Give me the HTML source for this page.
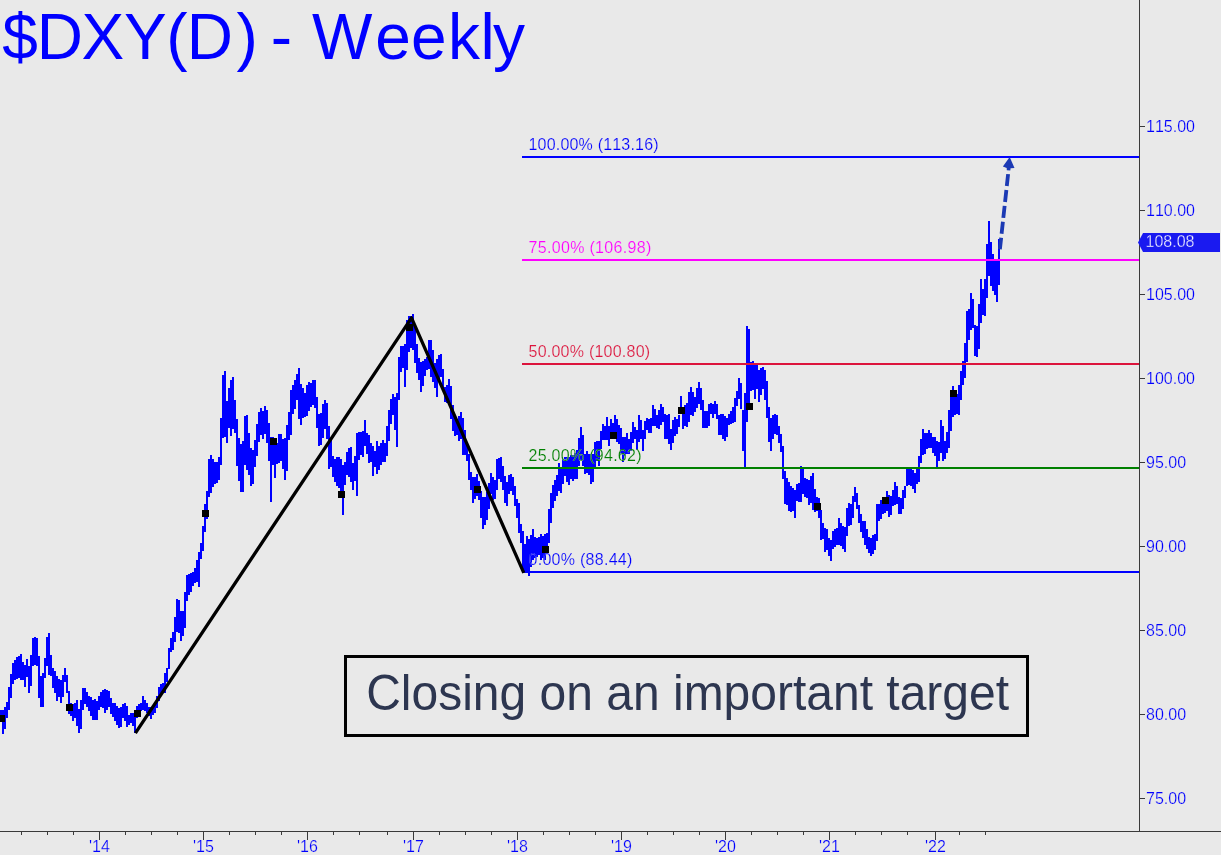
<!DOCTYPE html>
<html><head><meta charset="utf-8"><title>$DXY(D) - Weekly</title>
<style>
html,body{margin:0;padding:0;background:#e9e9e9;}
body{width:1221px;height:855px;overflow:hidden;position:relative;font-family:"Liberation Sans",Arial,sans-serif;}
svg{position:absolute;left:0;top:0;display:block;}
svg text{font-family:"Liberation Sans",Arial,sans-serif;font-kerning:none;}
#note{position:absolute;left:344px;top:655px;width:679px;height:76px;border:3px solid #000;box-sizing:content-box;}
</style></head><body>
<svg width="1221" height="855" viewBox="0 0 1221 855">
<rect width="1221" height="855" fill="#e9e9e9"/>
<text x="2.3 36.8 81.6 124.0 166.2 186.7 236.4 257.5 270.8 296.6 312.0 375.3 411.1 448 480.6 493" y="59" fill="#0000ff" font-size="64">$DXY(D) - Weekly</text>
<path d="M0 710h2V718h-2ZM2 710h2V734h-2ZM4 707h2V729h-2ZM6 702h2V718h-2ZM8 687h2V710h-2ZM10 674h2V698h-2ZM12 663h2V684h-2ZM14 660h2V680h-2ZM16 657h2V679h-2ZM18 656h2V678h-2ZM20 654h2V680h-2ZM22 662h2V680h-2ZM24 665h2V687h-2ZM26 659h2V677h-2ZM28 666h2V693h-2ZM30 655h2V686h-2ZM32 638h2V666h-2ZM34 637h2V665h-2ZM36 638h2V666h-2ZM38 656h2V698h-2ZM40 676h2V707h-2ZM42 673h2V707h-2ZM44 658h2V678h-2ZM46 637h2V666h-2ZM48 633h2V675h-2ZM50 655h2V676h-2ZM52 668h2V688h-2ZM54 671h2V693h-2ZM56 676h2V701h-2ZM58 679h2V697h-2ZM60 680h2V703h-2ZM62 675h2V697h-2ZM64 668h2V682h-2ZM66 675h2V693h-2ZM68 691h2V714h-2ZM70 703h2V716h-2ZM72 704h2V721h-2ZM74 703h2V718h-2ZM76 700h2V726h-2ZM78 709h2V733h-2ZM80 700h2V729h-2ZM82 688h2V710h-2ZM84 688h2V704h-2ZM86 692h2V707h-2ZM88 696h2V711h-2ZM90 697h2V716h-2ZM92 700h2V720h-2ZM94 699h2V720h-2ZM96 701h2V720h-2ZM98 696h2V710h-2ZM100 692h2V707h-2ZM102 690h2V708h-2ZM104 689h2V713h-2ZM106 690h2V710h-2ZM108 691h2V707h-2ZM110 698h2V714h-2ZM112 703h2V717h-2ZM114 703h2V721h-2ZM116 706h2V725h-2ZM118 708h2V728h-2ZM120 707h2V727h-2ZM122 704h2V718h-2ZM124 703h2V721h-2ZM126 706h2V727h-2ZM128 715h2V725h-2ZM130 713h2V723h-2ZM132 713h2V726h-2ZM134 710h2V733h-2ZM136 706h2V718h-2ZM138 704h2V714h-2ZM140 703h2V711h-2ZM142 696h2V710h-2ZM144 700h2V711h-2ZM146 703h2V713h-2ZM148 707h2V716h-2ZM150 707h2V719h-2ZM152 706h2V715h-2ZM154 703h2V713h-2ZM156 696h2V708h-2ZM158 687h2V701h-2ZM160 684h2V694h-2ZM162 683h2V693h-2ZM164 673h2V693h-2ZM166 668h2V682h-2ZM168 648h2V669h-2ZM170 638h2V652h-2ZM172 632h2V650h-2ZM174 617h2V642h-2ZM176 599h2V632h-2ZM178 600h2V633h-2ZM180 611h2V641h-2ZM182 611h2V636h-2ZM184 592h2V628h-2ZM186 575h2V601h-2ZM188 574h2V595h-2ZM190 573h2V592h-2ZM192 572h2V586h-2ZM194 568h2V583h-2ZM196 560h2V582h-2ZM198 552h2V587h-2ZM200 543h2V559h-2ZM202 526h2V551h-2ZM204 504h2V532h-2ZM206 491h2V519h-2ZM208 459h2V497h-2ZM210 455h2V493h-2ZM212 459h2V487h-2ZM214 462h2V484h-2ZM216 462h2V483h-2ZM218 457h2V480h-2ZM220 418h2V465h-2ZM222 375h2V438h-2ZM224 371h2V437h-2ZM226 401h2V443h-2ZM228 388h2V428h-2ZM230 380h2V436h-2ZM232 377h2V429h-2ZM234 400h2V433h-2ZM236 419h2V466h-2ZM238 438h2V481h-2ZM240 444h2V492h-2ZM242 441h2V492h-2ZM244 416h2V465h-2ZM246 415h2V470h-2ZM248 433h2V475h-2ZM250 448h2V486h-2ZM252 450h2V484h-2ZM254 440h2V467h-2ZM256 424h2V456h-2ZM258 412h2V442h-2ZM260 408h2V435h-2ZM262 411h2V439h-2ZM264 406h2V434h-2ZM266 410h2V443h-2ZM268 423h2V461h-2ZM270 437h2V502h-2ZM272 437h2V465h-2ZM274 444h2V478h-2ZM276 443h2V464h-2ZM278 434h2V463h-2ZM280 434h2V461h-2ZM282 439h2V469h-2ZM284 438h2V480h-2ZM286 425h2V471h-2ZM288 412h2V440h-2ZM290 390h2V435h-2ZM292 385h2V414h-2ZM294 380h2V409h-2ZM296 374h2V400h-2ZM298 368h2V419h-2ZM300 384h2V425h-2ZM302 388h2V418h-2ZM304 393h2V417h-2ZM306 385h2V416h-2ZM308 382h2V411h-2ZM310 383h2V407h-2ZM312 380h2V405h-2ZM314 380h2V408h-2ZM316 397h2V428h-2ZM318 414h2V446h-2ZM320 413h2V445h-2ZM322 404h2V438h-2ZM324 400h2V429h-2ZM326 403h2V439h-2ZM328 426h2V469h-2ZM330 438h2V467h-2ZM332 456h2V477h-2ZM334 459h2V482h-2ZM336 457h2V486h-2ZM338 457h2V488h-2ZM340 459h2V491h-2ZM342 465h2V515h-2ZM344 462h2V485h-2ZM346 452h2V475h-2ZM348 448h2V477h-2ZM350 447h2V482h-2ZM352 463h2V490h-2ZM354 456h2V481h-2ZM356 433h2V496h-2ZM358 432h2V460h-2ZM360 432h2V455h-2ZM362 431h2V457h-2ZM364 420h2V446h-2ZM366 433h2V454h-2ZM368 435h2V463h-2ZM370 443h2V462h-2ZM372 446h2V476h-2ZM374 451h2V467h-2ZM376 441h2V474h-2ZM378 446h2V470h-2ZM380 443h2V465h-2ZM382 440h2V462h-2ZM384 443h2V462h-2ZM386 426h2V456h-2ZM388 410h2V441h-2ZM390 399h2V424h-2ZM392 394h2V415h-2ZM394 397h2V430h-2ZM396 393h2V447h-2ZM398 357h2V400h-2ZM400 346h2V372h-2ZM402 346h2V368h-2ZM404 344h2V387h-2ZM406 320h2V370h-2ZM408 316h2V352h-2ZM410 316h2V348h-2ZM412 314h2V350h-2ZM414 325h2V363h-2ZM416 344h2V373h-2ZM418 358h2V380h-2ZM420 362h2V392h-2ZM422 361h2V386h-2ZM424 359h2V376h-2ZM426 357h2V370h-2ZM428 340h2V369h-2ZM430 340h2V377h-2ZM432 350h2V382h-2ZM434 363h2V388h-2ZM436 359h2V397h-2ZM438 355h2V382h-2ZM440 354h2V377h-2ZM442 369h2V390h-2ZM444 387h2V402h-2ZM446 385h2V403h-2ZM448 379h2V403h-2ZM450 386h2V419h-2ZM452 405h2V431h-2ZM454 418h2V436h-2ZM456 419h2V435h-2ZM458 416h2V441h-2ZM460 412h2V439h-2ZM462 418h2V455h-2ZM464 430h2V455h-2ZM466 445h2V461h-2ZM468 454h2V480h-2ZM470 472h2V490h-2ZM472 477h2V503h-2ZM474 477h2V499h-2ZM476 474h2V496h-2ZM478 481h2V500h-2ZM480 491h2V518h-2ZM482 497h2V529h-2ZM484 497h2V525h-2ZM486 492h2V520h-2ZM488 483h2V509h-2ZM490 473h2V494h-2ZM492 477h2V500h-2ZM494 480h2V499h-2ZM496 459h2V490h-2ZM498 458h2V479h-2ZM500 457h2V482h-2ZM502 466h2V490h-2ZM504 476h2V503h-2ZM506 482h2V506h-2ZM508 475h2V494h-2ZM510 474h2V491h-2ZM512 477h2V495h-2ZM514 486h2V506h-2ZM516 499h2V518h-2ZM518 503h2V533h-2ZM520 524h2V543h-2ZM522 531h2V569h-2ZM524 544h2V573h-2ZM526 536h2V571h-2ZM528 539h2V576h-2ZM530 535h2V567h-2ZM532 529h2V560h-2ZM534 537h2V558h-2ZM536 538h2V557h-2ZM538 537h2V555h-2ZM540 534h2V560h-2ZM542 536h2V558h-2ZM544 534h2V560h-2ZM546 533h2V547h-2ZM548 509h2V543h-2ZM550 493h2V523h-2ZM552 485h2V508h-2ZM554 480h2V501h-2ZM556 475h2V496h-2ZM558 463h2V491h-2ZM560 468h2V493h-2ZM562 459h2V484h-2ZM564 457h2V476h-2ZM566 457h2V482h-2ZM568 457h2V485h-2ZM570 455h2V479h-2ZM572 455h2V481h-2ZM574 453h2V479h-2ZM576 450h2V479h-2ZM578 438h2V466h-2ZM580 427h2V460h-2ZM582 435h2V466h-2ZM584 454h2V474h-2ZM586 451h2V473h-2ZM588 454h2V475h-2ZM590 454h2V484h-2ZM592 454h2V482h-2ZM594 442h2V467h-2ZM596 441h2V461h-2ZM598 441h2V466h-2ZM600 431h2V449h-2ZM602 424h2V440h-2ZM604 426h2V440h-2ZM606 417h2V440h-2ZM608 426h2V446h-2ZM610 419h2V439h-2ZM612 423h2V437h-2ZM614 415h2V439h-2ZM616 419h2V442h-2ZM618 425h2V444h-2ZM620 428h2V454h-2ZM622 437h2V462h-2ZM624 437h2V456h-2ZM626 433h2V454h-2ZM628 439h2V454h-2ZM630 432h2V451h-2ZM632 422h2V443h-2ZM634 427h2V439h-2ZM636 430h2V450h-2ZM638 415h2V442h-2ZM640 420h2V439h-2ZM642 430h2V451h-2ZM644 421h2V439h-2ZM646 418h2V430h-2ZM648 419h2V433h-2ZM650 418h2V433h-2ZM652 405h2V426h-2ZM654 409h2V426h-2ZM656 415h2V428h-2ZM658 410h2V429h-2ZM660 404h2V425h-2ZM662 407h2V422h-2ZM664 414h2V439h-2ZM666 415h2V439h-2ZM668 414h2V444h-2ZM670 429h2V450h-2ZM672 420h2V443h-2ZM674 417h2V436h-2ZM676 419h2V434h-2ZM678 415h2V427h-2ZM680 396h2V414h-2ZM682 408h2V429h-2ZM684 405h2V426h-2ZM686 403h2V427h-2ZM688 392h2V422h-2ZM690 387h2V415h-2ZM692 392h2V416h-2ZM694 397h2V412h-2ZM696 388h2V408h-2ZM698 382h2V404h-2ZM700 388h2V410h-2ZM702 400h2V428h-2ZM704 411h2V428h-2ZM706 411h2V428h-2ZM708 404h2V426h-2ZM710 403h2V414h-2ZM712 404h2V418h-2ZM714 401h2V414h-2ZM716 404h2V419h-2ZM718 415h2V435h-2ZM720 414h2V435h-2ZM722 414h2V439h-2ZM724 416h2V441h-2ZM726 418h2V437h-2ZM728 414h2V425h-2ZM730 411h2V424h-2ZM732 407h2V423h-2ZM734 398h2V422h-2ZM736 391h2V406h-2ZM738 378h2V399h-2ZM740 383h2V409h-2ZM742 410h2V451h-2ZM744 393h2V467h-2ZM746 326h2V422h-2ZM748 329h2V404h-2ZM750 362h2V391h-2ZM752 361h2V390h-2ZM754 365h2V399h-2ZM756 363h2V389h-2ZM758 370h2V402h-2ZM760 368h2V395h-2ZM762 367h2V389h-2ZM764 370h2V400h-2ZM766 381h2V418h-2ZM768 407h2V442h-2ZM770 418h2V451h-2ZM772 415h2V439h-2ZM774 414h2V434h-2ZM776 415h2V435h-2ZM778 426h2V443h-2ZM780 434h2V452h-2ZM782 446h2V479h-2ZM784 471h2V504h-2ZM786 478h2V505h-2ZM788 482h2V511h-2ZM790 486h2V512h-2ZM792 488h2V511h-2ZM794 490h2V518h-2ZM796 484h2V501h-2ZM798 483h2V502h-2ZM800 466h2V502h-2ZM802 469h2V494h-2ZM804 478h2V497h-2ZM806 479h2V498h-2ZM808 480h2V505h-2ZM810 476h2V503h-2ZM812 473h2V510h-2ZM814 489h2V512h-2ZM816 497h2V511h-2ZM818 498h2V518h-2ZM820 510h2V540h-2ZM822 523h2V539h-2ZM824 528h2V552h-2ZM826 529h2V550h-2ZM828 538h2V556h-2ZM830 540h2V561h-2ZM832 531h2V549h-2ZM834 529h2V547h-2ZM836 528h2V545h-2ZM838 518h2V545h-2ZM840 523h2V546h-2ZM842 526h2V549h-2ZM844 527h2V552h-2ZM846 508h2V536h-2ZM848 503h2V526h-2ZM850 504h2V525h-2ZM852 496h2V518h-2ZM854 487h2V502h-2ZM856 493h2V509h-2ZM858 505h2V523h-2ZM860 514h2V532h-2ZM862 521h2V538h-2ZM864 521h2V545h-2ZM866 529h2V549h-2ZM868 537h2V553h-2ZM870 538h2V556h-2ZM872 535h2V554h-2ZM874 534h2V550h-2ZM876 504h2V541h-2ZM878 504h2V521h-2ZM880 500h2V519h-2ZM882 500h2V514h-2ZM884 498h2V513h-2ZM886 491h2V511h-2ZM888 495h2V517h-2ZM890 496h2V515h-2ZM892 490h2V506h-2ZM894 482h2V505h-2ZM896 486h2V504h-2ZM898 497h2V514h-2ZM900 498h2V514h-2ZM902 490h2V509h-2ZM904 486h2V498h-2ZM906 469h2V486h-2ZM908 468h2V485h-2ZM910 468h2V486h-2ZM912 470h2V489h-2ZM914 473h2V493h-2ZM916 469h2V484h-2ZM918 456h2V482h-2ZM920 439h2V463h-2ZM922 429h2V455h-2ZM924 433h2V454h-2ZM926 433h2V449h-2ZM928 430h2V448h-2ZM930 433h2V448h-2ZM932 437h2V453h-2ZM934 437h2V456h-2ZM936 441h2V469h-2ZM938 442h2V461h-2ZM940 420h2V453h-2ZM942 426h2V461h-2ZM944 441h2V459h-2ZM946 432h2V453h-2ZM948 410h2V448h-2ZM950 393h2V431h-2ZM952 386h2V417h-2ZM954 390h2V415h-2ZM956 394h2V414h-2ZM958 385h2V415h-2ZM960 371h2V400h-2ZM962 361h2V385h-2ZM964 343h2V378h-2ZM966 311h2V362h-2ZM968 309h2V340h-2ZM970 293h2V330h-2ZM972 299h2V328h-2ZM974 325h2V356h-2ZM976 326h2V357h-2ZM978 304h2V349h-2ZM980 279h2V323h-2ZM982 289h2V315h-2ZM984 279h2V316h-2ZM986 244h2V298h-2ZM988 221h2V276h-2ZM990 242h2V286h-2ZM992 254h2V291h-2ZM994 261h2V295h-2ZM996 261h2V302h-2ZM998 239h2V285h-2Z" fill="#0000ff" shape-rendering="crispEdges"/>
<g shape-rendering="crispEdges"><rect x="522" y="156" width="617" height="2" fill="#0000ff"/><text x="528.5" y="150.2" fill="#0000ff" font-size="16" letter-spacing="0.19" stroke="#e9e9e9" stroke-width="0.18">100.00% (113.16)</text><rect x="522" y="259" width="617" height="2" fill="#ff00ff"/><text x="528.5" y="253.2" fill="#ff00ff" font-size="16" letter-spacing="0.32" stroke="#e9e9e9" stroke-width="0.18">75.00% (106.98)</text><rect x="522" y="363" width="617" height="2" fill="#dc143c"/><text x="528.5" y="357.2" fill="#dc143c" font-size="16" letter-spacing="0.24" stroke="#e9e9e9" stroke-width="0.18">50.00% (100.80)</text><rect x="522" y="467" width="617" height="2" fill="#008000"/><text x="528.5" y="461.2" fill="#008000" font-size="16" letter-spacing="0.28" stroke="#e9e9e9" stroke-width="0.18">25.00% (94.62)</text><rect x="522" y="571" width="617" height="2" fill="#0000ff"/><text x="528.5" y="565.2" fill="#0000ff" font-size="16" letter-spacing="0.28" stroke="#e9e9e9" stroke-width="0.18">0.00% (88.44)</text></g>
<polyline points="135.4,733.2 411.5,317.8 523.8,572.9" fill="none" stroke="#000" stroke-width="3.3" stroke-linejoin="round"/>
<g fill="#000" shape-rendering="crispEdges"><rect x="-2" y="715" width="7" height="7"/><rect x="66" y="704" width="7" height="7"/><rect x="134" y="710" width="7" height="7"/><rect x="202" y="510" width="7" height="7"/><rect x="270" y="438" width="7" height="7"/><rect x="338" y="491" width="7" height="7"/><rect x="406" y="324" width="7" height="7"/><rect x="474" y="486" width="7" height="7"/><rect x="542" y="546" width="7" height="7"/><rect x="610" y="432" width="7" height="7"/><rect x="678" y="407" width="7" height="7"/><rect x="746" y="403" width="7" height="7"/><rect x="814" y="503" width="7" height="7"/><rect x="882" y="497" width="7" height="7"/><rect x="950" y="390" width="7" height="7"/></g>
<line x1="1008.1" y1="174.1" x2="999.9" y2="249.3" stroke="#1c3ab4" stroke-width="3.8" stroke-dasharray="12 4"/>
<polygon points="1009.7,157 1014.5,168.1 1010.6,168.3 1010.3,170.6 1006.8,170.3 1006.7,167.9 1002.9,166.6" fill="#1c3ab4"/>
<g shape-rendering="crispEdges"><rect x="1139" y="0" width="1" height="832" fill="#3a3a3a"/><rect x="0" y="831" width="1221" height="1" fill="#3a3a3a"/><rect x="1140" y="798" width="5" height="1" fill="#3a3a3a"/><text x="1146" y="803.8" fill="#0000ff" font-size="16" stroke="#e9e9e9" stroke-width="0.22">75.00</text><rect x="1140" y="714" width="5" height="1" fill="#3a3a3a"/><text x="1146" y="719.8" fill="#0000ff" font-size="16" stroke="#e9e9e9" stroke-width="0.22">80.00</text><rect x="1140" y="630" width="5" height="1" fill="#3a3a3a"/><text x="1146" y="635.8" fill="#0000ff" font-size="16" stroke="#e9e9e9" stroke-width="0.22">85.00</text><rect x="1140" y="546" width="5" height="1" fill="#3a3a3a"/><text x="1146" y="551.8" fill="#0000ff" font-size="16" stroke="#e9e9e9" stroke-width="0.22">90.00</text><rect x="1140" y="462" width="5" height="1" fill="#3a3a3a"/><text x="1146" y="467.8" fill="#0000ff" font-size="16" stroke="#e9e9e9" stroke-width="0.22">95.00</text><rect x="1140" y="378" width="5" height="1" fill="#3a3a3a"/><text x="1146" y="383.8" fill="#0000ff" font-size="16" stroke="#e9e9e9" stroke-width="0.22">100.00</text><rect x="1140" y="294" width="5" height="1" fill="#3a3a3a"/><text x="1146" y="299.8" fill="#0000ff" font-size="16" stroke="#e9e9e9" stroke-width="0.22">105.00</text><rect x="1140" y="210" width="5" height="1" fill="#3a3a3a"/><text x="1146" y="215.8" fill="#0000ff" font-size="16" stroke="#e9e9e9" stroke-width="0.22">110.00</text><rect x="1140" y="126" width="5" height="1" fill="#3a3a3a"/><text x="1146" y="131.8" fill="#0000ff" font-size="16" stroke="#e9e9e9" stroke-width="0.22">115.00</text><rect x="99" y="832" width="1" height="8" fill="#3a3a3a"/><text x="99.5" y="851.7" fill="#0000ff" font-size="16" text-anchor="middle" stroke="#e9e9e9" stroke-width="0.22">'14</text><rect x="125" y="832" width="1" height="3" fill="#3a3a3a"/><rect x="151" y="832" width="1" height="3" fill="#3a3a3a"/><rect x="177" y="832" width="1" height="3" fill="#3a3a3a"/><rect x="203" y="832" width="1" height="8" fill="#3a3a3a"/><text x="203.5" y="851.7" fill="#0000ff" font-size="16" text-anchor="middle" stroke="#e9e9e9" stroke-width="0.22">'15</text><rect x="229" y="832" width="1" height="3" fill="#3a3a3a"/><rect x="255" y="832" width="1" height="3" fill="#3a3a3a"/><rect x="281" y="832" width="1" height="3" fill="#3a3a3a"/><rect x="307" y="832" width="1" height="8" fill="#3a3a3a"/><text x="307.5" y="851.7" fill="#0000ff" font-size="16" text-anchor="middle" stroke="#e9e9e9" stroke-width="0.22">'16</text><rect x="333" y="832" width="1" height="3" fill="#3a3a3a"/><rect x="359" y="832" width="1" height="3" fill="#3a3a3a"/><rect x="387" y="832" width="1" height="3" fill="#3a3a3a"/><rect x="413" y="832" width="1" height="8" fill="#3a3a3a"/><text x="413.5" y="851.7" fill="#0000ff" font-size="16" text-anchor="middle" stroke="#e9e9e9" stroke-width="0.22">'17</text><rect x="439" y="832" width="1" height="3" fill="#3a3a3a"/><rect x="465" y="832" width="1" height="3" fill="#3a3a3a"/><rect x="491" y="832" width="1" height="3" fill="#3a3a3a"/><rect x="517" y="832" width="1" height="8" fill="#3a3a3a"/><text x="517.5" y="851.7" fill="#0000ff" font-size="16" text-anchor="middle" stroke="#e9e9e9" stroke-width="0.22">'18</text><rect x="543" y="832" width="1" height="3" fill="#3a3a3a"/><rect x="569" y="832" width="1" height="3" fill="#3a3a3a"/><rect x="595" y="832" width="1" height="3" fill="#3a3a3a"/><rect x="621" y="832" width="1" height="8" fill="#3a3a3a"/><text x="621.5" y="851.7" fill="#0000ff" font-size="16" text-anchor="middle" stroke="#e9e9e9" stroke-width="0.22">'19</text><rect x="647" y="832" width="1" height="3" fill="#3a3a3a"/><rect x="673" y="832" width="1" height="3" fill="#3a3a3a"/><rect x="699" y="832" width="1" height="3" fill="#3a3a3a"/><rect x="725" y="832" width="1" height="8" fill="#3a3a3a"/><text x="725.5" y="851.7" fill="#0000ff" font-size="16" text-anchor="middle" stroke="#e9e9e9" stroke-width="0.22">'20</text><rect x="751" y="832" width="1" height="3" fill="#3a3a3a"/><rect x="777" y="832" width="1" height="3" fill="#3a3a3a"/><rect x="803" y="832" width="1" height="3" fill="#3a3a3a"/><rect x="829" y="832" width="1" height="8" fill="#3a3a3a"/><text x="829.5" y="851.7" fill="#0000ff" font-size="16" text-anchor="middle" stroke="#e9e9e9" stroke-width="0.22">'21</text><rect x="855" y="832" width="1" height="3" fill="#3a3a3a"/><rect x="881" y="832" width="1" height="3" fill="#3a3a3a"/><rect x="907" y="832" width="1" height="3" fill="#3a3a3a"/><rect x="935" y="832" width="1" height="8" fill="#3a3a3a"/><text x="935.5" y="851.7" fill="#0000ff" font-size="16" text-anchor="middle" stroke="#e9e9e9" stroke-width="0.22">'22</text><rect x="959" y="832" width="1" height="3" fill="#3a3a3a"/><rect x="985" y="832" width="1" height="3" fill="#3a3a3a"/><rect x="21" y="832" width="1" height="3" fill="#3a3a3a"/><rect x="47" y="832" width="1" height="3" fill="#3a3a3a"/><rect x="73" y="832" width="1" height="3" fill="#3a3a3a"/></g>
<polygon points="1138,242.5 1143,233 1220,233 1220,252 1143,252" fill="#1a1af0"/>
<text x="1145.5" y="247" fill="#fff" font-size="16" stroke="#1a1af0" stroke-width="0.35">108.08</text>
<text x="366.2" y="710.3" fill="#2d3650" font-size="48" style="font-kerning:auto" transform="matrix(1 0 0 1.045 0 -31.96)">Closing on an important target</text>
</svg>
<div id="note"></div>
</body></html>
